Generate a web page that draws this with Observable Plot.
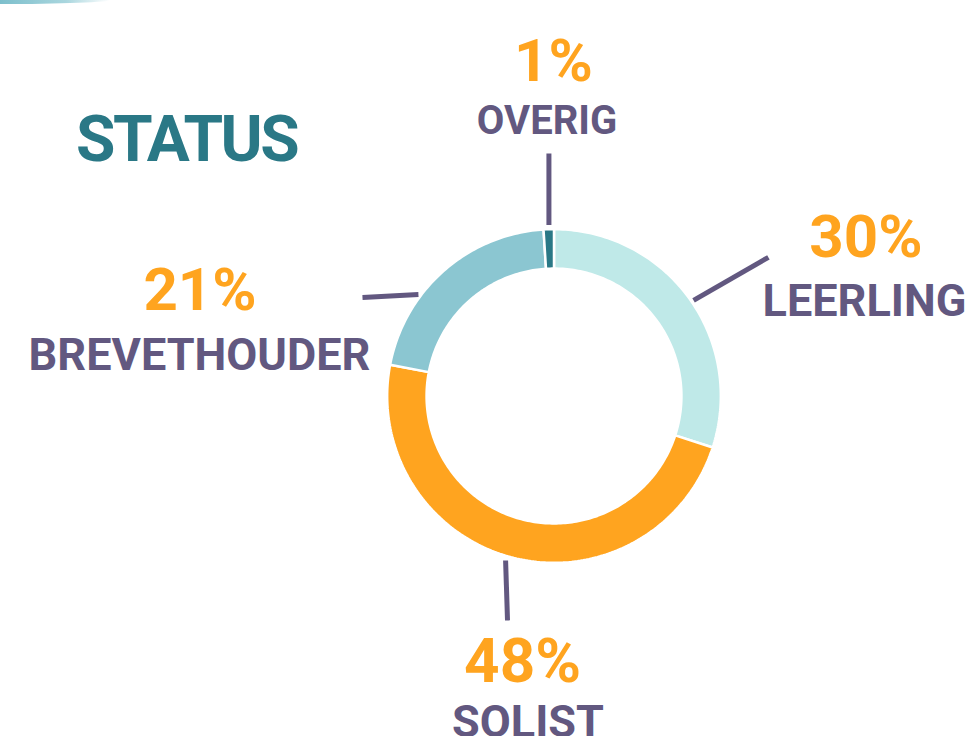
<!DOCTYPE html>
<html>
<head>
<meta charset="utf-8">
<script src="https://cdn.jsdelivr.net/npm/d3@7"></script>
<script src="https://cdn.jsdelivr.net/npm/@observablehq/plot@0.6"></script>
<style>
  html, body { margin: 0; padding: 0; background: #fff; overflow: hidden; }
  #wrap { position: relative; width: 969px; height: 736px; overflow: hidden; }
  #deco { position: absolute; left: 0; top: 0; width: 110px; height: 4px;
          background: linear-gradient(to right, #7dbfcc 0%, #a9d6de 60%, rgba(255,255,255,0) 100%);
          border-bottom-right-radius: 100% 100%; }
  #title { position: absolute; left: 76px; top: 108px; margin: 0;
           font-family: Roboto, sans-serif; font-weight: 700; font-size: 64px;
           color: #2a7886; line-height: 1; letter-spacing: -2.5px; }
  svg { display: block; }
</style>
</head>
<body>
<div id="wrap">
  <div id="deco"></div>
  <div id="chart"></div>
  <h1 id="title">STATUS</h1>
</div>
<script>
// ---- data ----
const categories = ["LEERLING", "SOLIST", "BREVETHOUDER", "OVERIG"];
const shares = [30, 48, 21, 1];
const pctLabels = ["30%", "48%", "21%", "1%"];

// ---- styling / layout (not data) ----
const sliceColors = ["#bfe9e8", "#ffa41f", "#8bc6d1", "#2a7886"];
const outerR = 1.008, innerR = 0.77;
// leader lines: [angle deg clockwise from top, radius in outer-radius units]
const leaderFrom = [[55.6, 1.022], [196.4, 1.036], [306.8, 1.023], [358.3, 1.033]];
const leaderTo   = [[57.1, 1.543], [191.7, 1.385], [297.2, 1.301], [358.8, 1.465]];
// label anchors (x, y) in outer-radius units, text baseline
const pctPos  = [[1.885, 0.837], [-0.190, -1.731], [-2.139, 0.517], [-0.003, 1.906]];
const namePos = [[1.876, 0.486], [-0.157, -2.063], [-2.142, 0.160], [-0.042, 1.586]];
const nameSize = [45, 45, 45, 40];
const pctSize = [60, 62, 60, 60];

const rad = Math.PI / 180;
const polar = (deg, r) => [r * Math.sin(deg * rad), r * Math.cos(deg * rad)];

// arc polygons from pie layout
const pie = d3.pie().sort(null).value(d => d)(shares);
const arcPts = [];
pie.forEach((p, i) => {
  const a0 = p.startAngle, a1 = p.endAngle;
  const n = Math.max(4, Math.ceil((a1 - a0) / rad));
  for (let k = 0; k <= n; k++) {
    const a = a0 + (a1 - a0) * k / n;
    arcPts.push({cat: categories[i], x: outerR * Math.sin(a), y: outerR * Math.cos(a)});
  }
  for (let k = n; k >= 0; k--) {
    const a = a0 + (a1 - a0) * k / n;
    arcPts.push({cat: categories[i], x: innerR * Math.sin(a), y: innerR * Math.cos(a)});
  }
});

const leaders = categories.map((c, i) => {
  const [x1, y1] = polar(...leaderFrom[i]);
  const [x2, y2] = polar(...leaderTo[i]);
  return {cat: c, x1, y1, x2, y2};
});
const labels = categories.map((c, i) => ({
  name: c, pct: pctLabels[i],
  px: pctPos[i][0], py: pctPos[i][1],
  nx: namePos[i][0], ny: namePos[i][1],
  ns: nameSize[i], ps: pctSize[i]
}));

const unit = 165.5, cx = 553.5, cy = 395.5, W = 969, H = 736;

const chart = Plot.plot({
  width: W, height: H,
  margin: 0,
  x: {domain: [-cx / unit, (W - cx) / unit], axis: null},
  y: {domain: [-(H - cy) / unit, cy / unit], axis: null},
  color: {domain: categories, range: sliceColors},
  style: {background: "transparent", overflow: "visible"},
  marks: [
    Plot.line(arcPts, {x: "x", y: "y", z: "cat", fill: "cat", stroke: "white",
      strokeWidth: 2.5, curve: "linear-closed", strokeLinejoin: "miter"}),
    Plot.link(leaders, {x1: "x1", y1: "y1", x2: "x2", y2: "y2",
      stroke: "#625880", strokeWidth: 5, strokeLinecap: "butt"}),
    Plot.text(labels, {x: "px", y: "py", text: "pct", fill: "#ffa41f",
      fontSize: "ps", fontWeight: 700, fontFamily: "Roboto, sans-serif",
      textAnchor: "middle", lineAnchor: "bottom"}),
    Plot.text(labels, {x: "nx", y: "ny", text: "name", fill: "#625880",
      fontSize: "ns", fontWeight: 700, fontFamily: "Roboto, sans-serif",
      textAnchor: "middle", lineAnchor: "bottom"})
  ]
});
document.getElementById("chart").appendChild(chart);
</script>
</body>
</html>
